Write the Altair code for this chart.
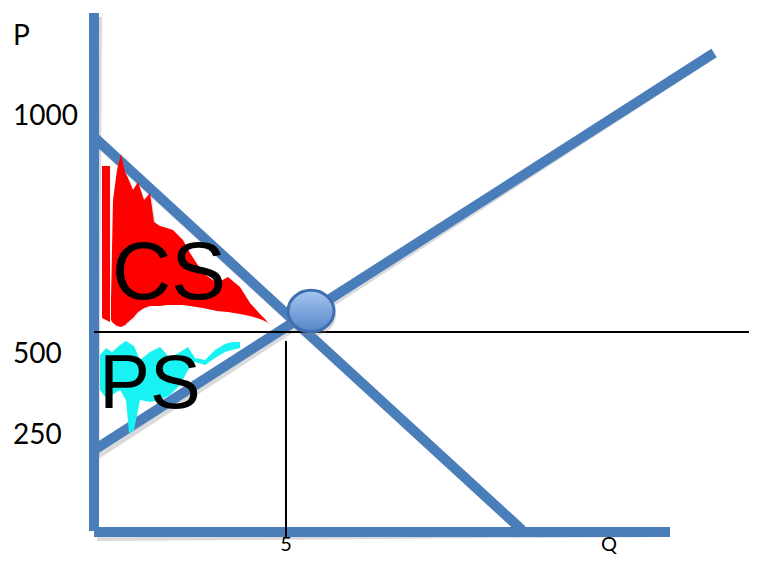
import altair as alt
import pandas as pd

# Diagram units = pixels of the original 757x564 slide canvas (y grows downward)
W, H = 741, 548
X0, Y0 = 8, 8

# Blue lines: P axis, Q axis, demand, supply
seg_name = ["P axis", "Q axis", "Demand", "Supply"]
seg_x1 = [94, 94, 94, 94]
seg_y1 = [13, 532, 137, 450]
seg_x2 = [94, 670, 522, 714]
seg_y2 = [531, 532, 530, 53]

# Thin black guide lines at the equilibrium
guide_name = ["P* = 500", "Q* = 5"]
guide_x1 = [94, 286]
guide_y1 = [332, 341]
guide_x2 = [757, 286]
guide_y2 = [332, 538]

# Equilibrium marker
eq_x = [311]
eq_y = [311]

# Consumer surplus scribble (red): left stroke + main body (x, upper edge, lower edge)
csbar_x = [102, 110]
csbar_top = [166, 166]
csbar_bot = [318, 322]
cs_x = [111, 113, 117, 121, 125, 128, 133, 138, 144, 150, 154, 160, 167, 173, 183, 190, 203, 217, 228, 240, 250, 260, 267]
cs_top = [300, 200, 170, 154, 172, 178, 190, 182, 200, 193, 222, 226, 228, 230, 240, 253, 273, 283, 277, 287, 303, 314, 321]
cs_bot = [320, 323, 326, 327, 325, 322, 318, 312, 308, 306, 306, 306, 305, 305, 305, 306, 308, 311, 312, 314, 316, 319, 322]

# Producer surplus scribble (cyan)
ps_x = [100, 106, 112, 120, 126, 129, 134, 140, 150, 160, 170, 180, 188, 195, 205, 215, 225, 232, 240]
ps_top = [355, 348, 352, 345, 341, 343, 346, 360, 352, 347, 358, 352, 347, 358, 360, 350, 344, 342, 342]
ps_bot = [390, 398, 395, 390, 400, 433, 430, 400, 402, 400, 395, 385, 370, 362, 365, 358, 352, 350, 348]

# Axis labels / tick labels
ylab_text = ["P", "1000", "500", "250"]
ylab_x = [13, 13, 13, 13]
ylab_y = [45, 125, 363, 444]
xlab_text = ["5", "Q"]
xlab_x = [286, 609]
xlab_y = [551, 551]

# Hand-written area labels
hw_text = ["CS", "PS"]
hw_x = [169, 150]
hw_y = [299, 408]
hw_size = [82, 76]

BLUE = "#4a7ebb"

xs = alt.Scale(domain=[X0, X0 + W], nice=False, zero=False)
ys = alt.Scale(domain=[Y0, Y0 + H], reverse=True, nice=False, zero=False)

seg = pd.DataFrame({"name": seg_name, "x1": seg_x1, "y1": seg_y1, "x2": seg_x2, "y2": seg_y2})
guide = pd.DataFrame({"name": guide_name, "x1": guide_x1, "y1": guide_y1, "x2": guide_x2, "y2": guide_y2})
eq = pd.DataFrame({"x": eq_x, "y": eq_y})
csbar = pd.DataFrame({"x": csbar_x, "top": csbar_top, "bot": csbar_bot})
cs = pd.DataFrame({"x": cs_x, "top": cs_top, "bot": cs_bot})
ps = pd.DataFrame({"x": ps_x, "top": ps_top, "bot": ps_bot})
ylab = pd.DataFrame({"t": ylab_text, "x": ylab_x, "y": ylab_y})
xlab = pd.DataFrame({"t": xlab_text, "x": xlab_x, "y": xlab_y})
hw = pd.DataFrame({"t": hw_text, "x": hw_x, "y": hw_y, "s": hw_size})


def seg_enc(ch):
    return ch.encode(
        x=alt.X("x1:Q", scale=xs, axis=None),
        y=alt.Y("y1:Q", scale=ys, axis=None),
        x2="x2:Q",
        y2="y2:Q",
    )


seg_shadow = seg_enc(alt.Chart(seg).mark_rule(
    color="#7a7a7a", strokeWidth=10, opacity=0.28, xOffset=3, yOffset=4))
seg_lines = seg_enc(alt.Chart(seg).mark_rule(color=BLUE, strokeWidth=10))


def area_enc(df, color):
    return alt.Chart(df).mark_area(color=color, opacity=1).encode(
        x=alt.X("x:Q", scale=xs, axis=None),
        y=alt.Y("top:Q", scale=ys, axis=None),
        y2="bot:Q",
    )


cs_shadow = alt.Chart(cs).mark_area(color="#888888", opacity=0.25, xOffset=2, yOffset=4).encode(
    x=alt.X("x:Q", scale=xs, axis=None), y=alt.Y("top:Q", scale=ys, axis=None), y2="bot:Q")
csbar_area = area_enc(csbar, "#ff0000")
cs_area = area_enc(cs, "#ff0000")
ps_area = area_enc(ps, "#19f2f2")

guides = seg_enc(alt.Chart(guide).mark_rule(color="black", strokeWidth=2))

ell_path = "M-1,0A1,0.9,0,1,0,1,0A1,0.9,0,1,0,-1,0Z"
grad = alt.LinearGradient(
    gradient="linear",
    stops=[alt.GradientStop(color="#a6c6f2", offset=0),
           alt.GradientStop(color="#5585c8", offset=1)],
    x1=0, x2=0, y1=0, y2=1,
)
eq_shadow = alt.Chart(eq).mark_point(
    shape=ell_path, size=2116, filled=True, fill="#808080", opacity=0.3,
    strokeWidth=0, xOffset=2, yOffset=4,
).encode(x=alt.X("x:Q", scale=xs, axis=None), y=alt.Y("y:Q", scale=ys, axis=None))
eq_mark = alt.Chart(eq).mark_point(
    shape=ell_path, size=2116, filled=True, fill=grad, stroke="#3f6fae",
    strokeWidth=3, opacity=1,
).encode(x=alt.X("x:Q", scale=xs, axis=None), y=alt.Y("y:Q", scale=ys, axis=None))

ylabels = alt.Chart(ylab).mark_text(
    font="Lato", fontSize=28, align="left", baseline="alphabetic", color="black"
).encode(x=alt.X("x:Q", scale=xs, axis=None), y=alt.Y("y:Q", scale=ys, axis=None), text="t:N")
xlabels = alt.Chart(xlab).mark_text(
    font="Lato", fontSize=20, align="center", baseline="alphabetic", color="black"
).encode(x=alt.X("x:Q", scale=xs, axis=None), y=alt.Y("y:Q", scale=ys, axis=None), text="t:N")

hw_labels = alt.Chart(hw).mark_text(
    font="Liberation Sans", align="center", baseline="alphabetic", color="black",
).encode(x=alt.X("x:Q", scale=xs, axis=None), y=alt.Y("y:Q", scale=ys, axis=None),
         text="t:N", size=alt.Size("s:Q", scale=None, legend=None))

chart = alt.layer(
    seg_shadow, seg_lines, cs_shadow, csbar_area, cs_area, ps_area, guides, eq_shadow, eq_mark,
    hw_labels, ylabels, xlabels,
).properties(
    width=W, height=H, padding=0, autosize=alt.AutoSizeParams(type="none"),
    background="white",
).configure_view(stroke=None)

chart.save("out.html", embed_options={"renderer": "svg", "actions": False})
